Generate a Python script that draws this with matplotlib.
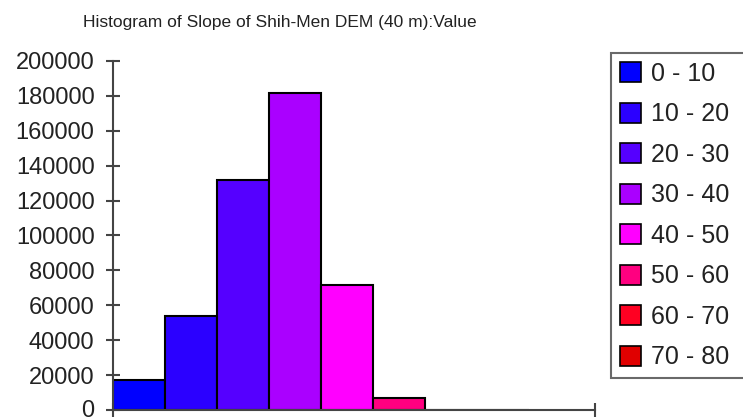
import matplotlib
matplotlib.use("Agg")
import matplotlib.pyplot as plt
import matplotlib.transforms as mtransforms
from matplotlib.patches import Patch
import numpy as np

# ── data ──────────────────────────────────────────────────────────────────────
classes = ["0 - 10", "10 - 20", "20 - 30", "30 - 40",
           "40 - 50", "50 - 60", "60 - 70", "70 - 80"]
counts = [17000, 54000, 132000, 181500, 71500, 7000, 0, 0]
colors = ["#0000FF", "#2B00FF", "#5500FF", "#AA00FF",
          "#FF00FF", "#FF0080", "#FF0022", "#E00000"]
yticks = np.arange(0, 200001, 20000)

plt.rcParams["font.family"] = ["Liberation Sans", "DejaVu Sans"]
txt_col = "#222222"
ax_col = "#444444"

fig = plt.figure(figsize=(7.43, 4.19), dpi=100)
ax = fig.add_axes([113/743, 1 - 410/419, (595 - 113)/743, (410 - 61)/419])

x = np.arange(len(counts))
ax.bar(x, counts, width=1.0, align="edge", color=colors,
       edgecolor="black", linewidth=1.5, zorder=1)

ax.set_xlim(0, 482/52)
ax.set_ylim(0, 200000)
ax.set_yticks(yticks)
ax.set_yticklabels([str(v) for v in yticks])
ax.set_xticks([0, 482/52])
ax.set_xticklabels([])

for s in ["top", "right"]:
    ax.spines[s].set_visible(False)
for s in ["left", "bottom"]:
    ax.spines[s].set_color(ax_col)
    ax.spines[s].set_linewidth(1.5)
    ax.spines[s].set_zorder(3)

ax.tick_params(axis="y", direction="inout", length=9.5, width=1.5,
               color=ax_col, labelsize=17, labelcolor=txt_col, pad=8.5)
ax.tick_params(axis="x", direction="inout", length=9.5, width=1.5,
               color=ax_col)

# nudge the "0" label up a touch so it stays inside the canvas
lab0 = ax.get_yticklabels()[0]
lab0.set_transform(lab0.get_transform() +
                   mtransforms.ScaledTranslation(0, 2/100, fig.dpi_scale_trans))

fig.text(280/743, 1 - 22/419, "Histogram of Slope of Shih-Men DEM (40 m):Value",
         ha="center", va="center", fontsize=12.5, color=txt_col)

handles = [Patch(facecolor=c, edgecolor="black", linewidth=1.2) for c in colors]
leg = fig.legend(handles, classes, loc="upper left",
                 bbox_to_anchor=(611/743, 0, 0.3, 1 - 53/419), mode="expand",
                 fontsize=18, frameon=True, fancybox=False, borderaxespad=0,
                 handlelength=0.85, handleheight=0.85, handletextpad=0.4,
                 labelspacing=0.66, borderpad=0.35)
leg.get_frame().set_edgecolor(ax_col)
leg.get_frame().set_linewidth(1.5)
for t in leg.get_texts():
    t.set_color(txt_col)

fig.savefig("out.png", dpi=100)
